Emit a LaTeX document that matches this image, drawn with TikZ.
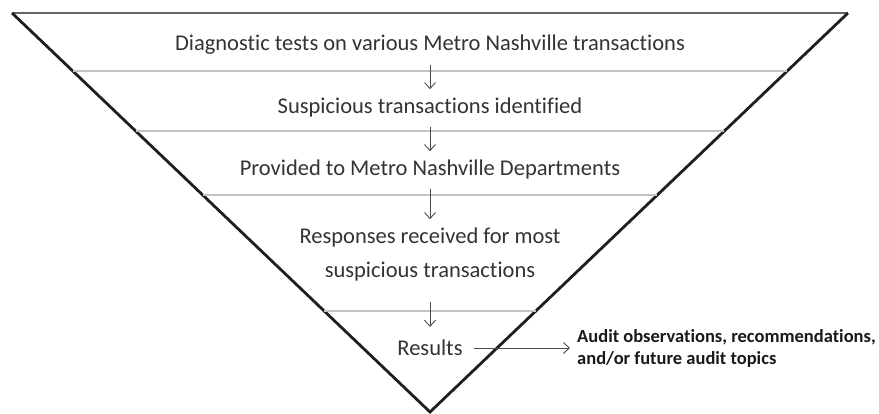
\documentclass[tikz,border=0pt]{standalone}
\usepackage{fontspec}
\setmainfont{Carlito}[Ligatures=NoCommon]
\usepackage{tikz}
\usetikzlibrary{arrows.meta}

\begin{document}
\begin{tikzpicture}[x=1pt,y=-1pt,
  stage/.style={font=\fontsize{22.5}{34}\selectfont,text=black!80,align=center,inner sep=1pt},
  note/.style={font=\bfseries\fontsize{18.5}{22}\selectfont,text=black!90,align=left,inner sep=1pt},
  flow/.style={-{Straight Barb[length=6pt,width=11pt]},black!70,line width=0.9pt,
    shorten <=9pt,shorten >=7pt},
  divider/.style={line width=1.8pt,black!24}]
\useasboundingbox (0,0) rectangle (879,413);
% funnel outline
\draw[line width=2pt,black!60] (12,13) -- (848,13);
\draw[line width=2.8pt,black!88,line join=miter] (12,13) -- (430,412) -- (848,13);
% dividers between the stages
\draw[divider] (73,71) -- (787,71);
\draw[divider] (136,131) -- (724,131);
\draw[divider] (203,195) -- (657,195);
\draw[divider] (324,311) -- (536,311);
% stages
\node[stage] (diag) at (430,45) {Diagnostic tests on various Metro Nashville transactions};
\node[stage] (susp) at (430,107) {Suspicious transactions identified};
\node[stage] (prov) at (430,169) {Provided to Metro Nashville Departments};
\node[stage] (resp) at (430,254) {Responses received for most\\suspicious transactions};
\node[stage] (res) at (430,348) {Results};
\node[note,anchor=west] (audit) at (576,348) {Audit observations, recommendations,\\and/or future audit topics};
% arrows
\draw[flow] (diag) -- (susp);
\draw[flow] (susp) -- (prov);
\draw[flow] (prov) -- (resp);
\draw[flow,shorten <=20pt,shorten >=12pt] (resp) -- (res);
\draw[flow,shorten <=10pt,shorten >=6pt] (res) -- (audit);
\end{tikzpicture}
\end{document}
